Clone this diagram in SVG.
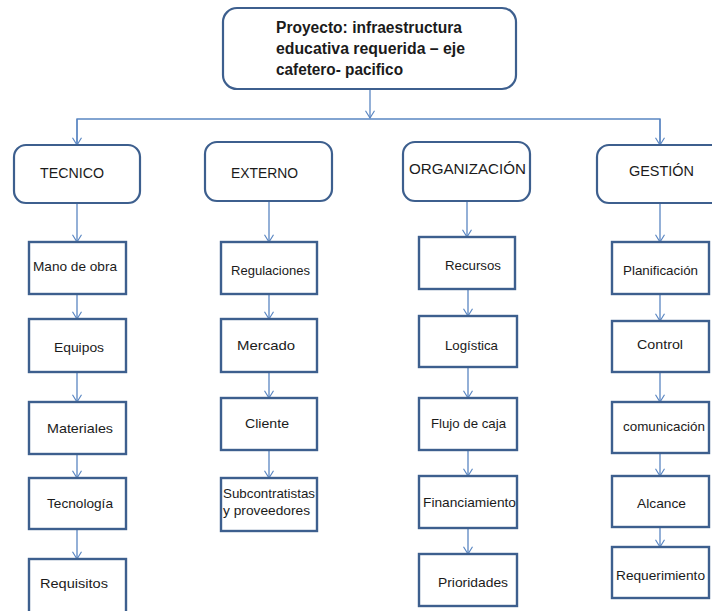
<svg xmlns="http://www.w3.org/2000/svg" width="712" height="611" viewBox="0 0 712 611">
<style>
.rbox{fill:#fff;stroke:#3d5f8e;stroke-width:2.2}
.box{fill:#fff;stroke:#3d5f8e;stroke-width:2.4}
.con{fill:none;stroke:#5a86c2;stroke-width:1.3}
text{font-family:"Liberation Sans",Arial,sans-serif;fill:#1b1b1b}
.t{font-size:16px;font-weight:bold}
.h{font-size:15px}
.s{font-size:13px}
</style>
<defs>
<marker id="ah" viewBox="0 0 10 12" refX="9" refY="6" markerWidth="9" markerHeight="11" markerUnits="userSpaceOnUse" orient="auto">
<path d="M1,1 L9,6 L1,11" fill="none" stroke="#5a86c2" stroke-width="1.3"/>
</marker>
</defs>
<rect width="712" height="611" fill="#fff"/>
<g id="connectors">
<path class="con" d="M370,89 V118" marker-end="url(#ah)"/>
<path class="con" d="M77,145 V119 H660 V145" />
<path class="con" d="M77,119 V145" marker-end="url(#ah)"/>
<path class="con" d="M660,119 V145" marker-end="url(#ah)"/>
<path class="con" d="M77,203 V242" marker-end="url(#ah)"/>
<path class="con" d="M77,294 V319" marker-end="url(#ah)"/>
<path class="con" d="M77,372 V402" marker-end="url(#ah)"/>
<path class="con" d="M77,454 V478" marker-end="url(#ah)"/>
<path class="con" d="M77,529 V559" marker-end="url(#ah)"/>
<path class="con" d="M269,201 V242" marker-end="url(#ah)"/>
<path class="con" d="M269,294 V319" marker-end="url(#ah)"/>
<path class="con" d="M269,372 V398" marker-end="url(#ah)"/>
<path class="con" d="M269,450 V478" marker-end="url(#ah)"/>
<path class="con" d="M467,201 V237" marker-end="url(#ah)"/>
<path class="con" d="M468,289 V316" marker-end="url(#ah)"/>
<path class="con" d="M468,367 V398" marker-end="url(#ah)"/>
<path class="con" d="M468,450 V476" marker-end="url(#ah)"/>
<path class="con" d="M468,528 V554" marker-end="url(#ah)"/>
<path class="con" d="M660,203 V242" marker-end="url(#ah)"/>
<path class="con" d="M660,294 V321" marker-end="url(#ah)"/>
<path class="con" d="M660,372 V402" marker-end="url(#ah)"/>
<path class="con" d="M660,453 V476" marker-end="url(#ah)"/>
<path class="con" d="M660,527 V547" marker-end="url(#ah)"/>
</g>
<g id="proyecto">
<rect class="rbox" x="223" y="8" width="293" height="81" rx="14"/>
<text class="t" x="276" y="33" textLength="186" lengthAdjust="spacingAndGlyphs">Proyecto: infraestructura</text>
<text class="t" x="276" y="54" textLength="189" lengthAdjust="spacingAndGlyphs">educativa requerida – eje</text>
<text class="t" x="276" y="75" textLength="127" lengthAdjust="spacingAndGlyphs">cafetero- pacifico</text>
</g>
<g id="tecnico">
<rect class="rbox" x="14" y="145" width="126" height="58" rx="12"/>
<text class="h" x="40" y="178" textLength="64" lengthAdjust="spacingAndGlyphs">TECNICO</text>
</g>
<g id="externo">
<rect class="rbox" x="205" y="142" width="127" height="59" rx="12"/>
<text class="h" x="231" y="178" textLength="67" lengthAdjust="spacingAndGlyphs">EXTERNO</text>
</g>
<g id="organizacion">
<rect class="rbox" x="403" y="142" width="127" height="59" rx="12"/>
<text class="h" x="409" y="174" textLength="117" lengthAdjust="spacingAndGlyphs">ORGANIZACIÓN</text>
</g>
<g id="gestion">
<rect class="rbox" x="597" y="145" width="128" height="58" rx="12"/>
<text class="h" x="629" y="176" textLength="65" lengthAdjust="spacingAndGlyphs">GESTIÓN</text>
</g>
<g id="mano-de-obra"><rect class="box" x="29" y="242" width="97" height="52"/><text class="s" x="33" y="271" textLength="84" lengthAdjust="spacingAndGlyphs">Mano de obra</text></g>
<g id="equipos"><rect class="box" x="29" y="319" width="97" height="53"/><text class="s" x="54" y="352" textLength="50" lengthAdjust="spacingAndGlyphs">Equipos</text></g>
<g id="materiales"><rect class="box" x="29" y="402" width="97" height="52"/><text class="s" x="47" y="433" textLength="66" lengthAdjust="spacingAndGlyphs">Materiales</text></g>
<g id="tecnologia"><rect class="box" x="29" y="478" width="97" height="51"/><text class="s" x="47" y="508" textLength="66" lengthAdjust="spacingAndGlyphs">Tecnología</text></g>
<g id="requisitos"><rect class="box" x="29" y="559" width="97" height="60"/><text class="s" x="40" y="588" textLength="68" lengthAdjust="spacingAndGlyphs">Requisitos</text></g>
<g id="regulaciones"><rect class="box" x="221" y="242" width="96" height="52"/><text class="s" x="231" y="275" textLength="79" lengthAdjust="spacingAndGlyphs">Regulaciones</text></g>
<g id="mercado"><rect class="box" x="221" y="319" width="96" height="53"/><text class="s" x="237" y="350" textLength="58" lengthAdjust="spacingAndGlyphs">Mercado</text></g>
<g id="cliente"><rect class="box" x="221" y="398" width="96" height="52"/><text class="s" x="245" y="428" textLength="44" lengthAdjust="spacingAndGlyphs">Cliente</text></g>
<g id="subcontratistas"><rect class="box" x="221" y="478" width="96" height="53"/><text class="s" x="223" y="498" textLength="92" lengthAdjust="spacingAndGlyphs">Subcontratistas</text><text class="s" x="223" y="515" textLength="87" lengthAdjust="spacingAndGlyphs">y proveedores</text></g>
<g id="recursos"><rect class="box" x="419" y="237" width="96" height="52"/><text class="s" x="445" y="270" textLength="56" lengthAdjust="spacingAndGlyphs">Recursos</text></g>
<g id="logistica"><rect class="box" x="419" y="316" width="98" height="51"/><text class="s" x="445" y="350" textLength="53" lengthAdjust="spacingAndGlyphs">Logística</text></g>
<g id="flujo-de-caja"><rect class="box" x="419" y="398" width="98" height="52"/><text class="s" x="431" y="428" textLength="75" lengthAdjust="spacingAndGlyphs">Flujo de caja</text></g>
<g id="financiamiento"><rect class="box" x="419" y="476" width="98" height="52"/><text class="s" x="423" y="507" textLength="93" lengthAdjust="spacingAndGlyphs">Financiamiento</text></g>
<g id="prioridades"><rect class="box" x="419" y="554" width="98" height="52"/><text class="s" x="438" y="587" textLength="70" lengthAdjust="spacingAndGlyphs">Prioridades</text></g>
<g id="planificacion"><rect class="box" x="612" y="242" width="97" height="52"/><text class="s" x="623" y="275" textLength="75" lengthAdjust="spacingAndGlyphs">Planificación</text></g>
<g id="control"><rect class="box" x="612" y="321" width="97" height="51"/><text class="s" x="637" y="349" textLength="46" lengthAdjust="spacingAndGlyphs">Control</text></g>
<g id="comunicacion"><rect class="box" x="612" y="402" width="97" height="51"/><text class="s" x="623" y="431" textLength="82" lengthAdjust="spacingAndGlyphs">comunicación</text></g>
<g id="alcance"><rect class="box" x="612" y="476" width="97" height="51"/><text class="s" x="637" y="508" textLength="49" lengthAdjust="spacingAndGlyphs">Alcance</text></g>
<g id="requerimiento"><rect class="box" x="612" y="547" width="97" height="51"/><text class="s" x="616" y="580" textLength="89" lengthAdjust="spacingAndGlyphs">Requerimiento</text></g>
</svg>
